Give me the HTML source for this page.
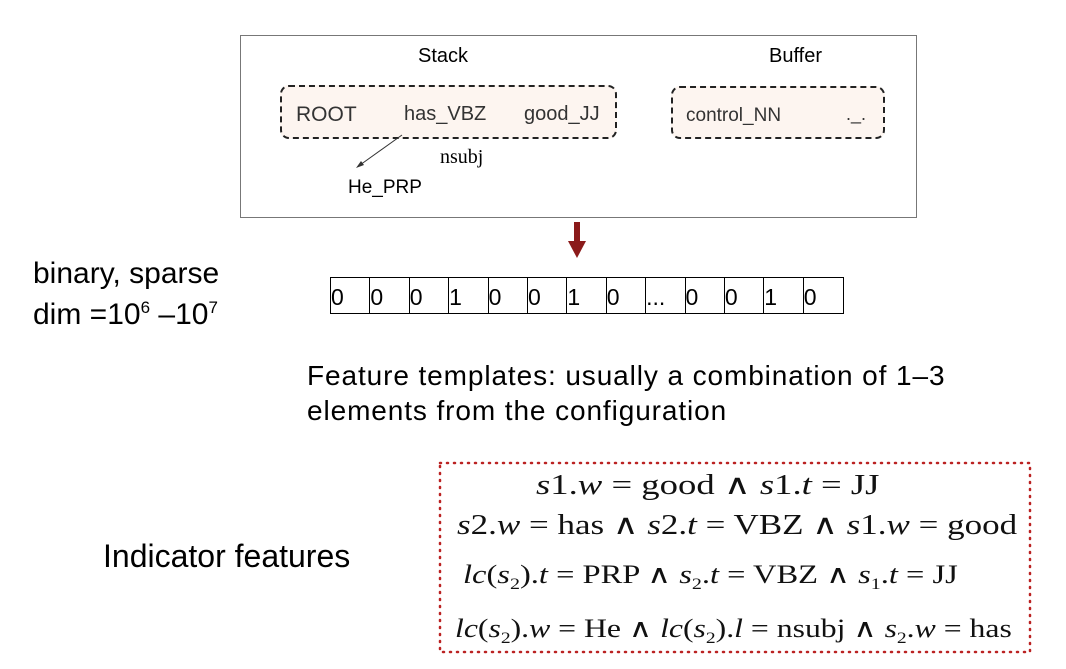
<!DOCTYPE html>
<html><head><style>
body{margin:0;width:1066px;height:669px;background:#fff;position:relative;overflow:hidden;font-family:"Liberation Sans",sans-serif;}
.a{position:absolute;white-space:nowrap;}
.s{font-family:"Liberation Serif",serif;font-size:28px;color:#111;transform:scaleX(1.25);transform-origin:0 0;}
i{font-style:italic}
</style></head><body>
<div class="a" style="left:240px;top:35px;width:675px;height:181px;border:1.5px solid #777;"></div>
<div class="a" style="left:418px;top:45px;font-size:20px;">Stack</div>
<div class="a" style="left:769px;top:45px;font-size:20px;">Buffer</div>
<div class="a" style="left:280px;top:85px;width:333px;height:50px;border:2.5px dashed #222;border-radius:9px;background:#fdf5f0;"></div>
<div class="a" style="left:671px;top:86px;width:210px;height:49px;border:2.5px dashed #222;border-radius:9px;background:#fdf5f0;"></div>
<div class="a" style="left:296px;top:103px;font-size:21px;color:#333;">ROOT</div>
<div class="a" style="left:404px;top:103px;font-size:20px;color:#333;">has_VBZ</div>
<div class="a" style="left:524px;top:103px;font-size:20px;color:#333;">good_JJ</div>
<div class="a" style="left:686px;top:105px;font-size:19px;color:#333;">control_NN</div>
<div class="a" style="left:846px;top:104px;font-size:18px;color:#333;">._.</div>
<svg class="a" style="left:0;top:0" width="1066" height="669">
<line x1="402" y1="135" x2="360" y2="165" stroke="#333" stroke-width="1"/>
<polygon points="356,168 361,161 364,165" fill="#333"/>
<rect x="574" y="222" width="6" height="20" fill="#8b1a1a"/>
<polygon points="568,241 586,241 577,258" fill="#8b1a1a"/>
<rect x="440" y="463" width="590" height="189" fill="none" stroke="#b22" stroke-width="2.5" stroke-dasharray="1 6" stroke-linecap="round"/>
</svg>
<div class="a" style="left:440px;top:146px;font-family:'Liberation Serif',serif;font-size:20px;">nsubj</div>
<div class="a" style="left:348px;top:177px;font-size:19px;">He_PRP</div>
<div class="a" style="left:330px;top:277px;height:35px;width:512px;border:1.5px solid #000;display:flex;font-size:23px;line-height:38px;">
<div style="width:39.4px;border-right:1.5px solid #000;box-sizing:border-box">0</div>
<div style="width:39.4px;border-right:1.5px solid #000;box-sizing:border-box">0</div>
<div style="width:39.4px;border-right:1.5px solid #000;box-sizing:border-box">0</div>
<div style="width:39.4px;border-right:1.5px solid #000;box-sizing:border-box">1</div>
<div style="width:39.4px;border-right:1.5px solid #000;box-sizing:border-box">0</div>
<div style="width:39.4px;border-right:1.5px solid #000;box-sizing:border-box">0</div>
<div style="width:39.4px;border-right:1.5px solid #000;box-sizing:border-box">1</div>
<div style="width:39.4px;border-right:1.5px solid #000;box-sizing:border-box">0</div>
<div style="width:39.4px;border-right:1.5px solid #000;box-sizing:border-box">...</div>
<div style="width:39.4px;border-right:1.5px solid #000;box-sizing:border-box">0</div>
<div style="width:39.4px;border-right:1.5px solid #000;box-sizing:border-box">0</div>
<div style="width:39.4px;border-right:1.5px solid #000;box-sizing:border-box">1</div>
<div style="width:39.4px;box-sizing:border-box">0</div>
</div>
<div class="a" style="left:33px;top:257px;font-size:30px;">binary, sparse</div>
<div class="a" style="left:33px;top:298px;font-size:30px;">dim =10<sup style="font-size:17px">6</sup> –10<sup style="font-size:17px">7</sup></div>
<div class="a" style="left:307px;top:358px;font-size:28px;line-height:35px;letter-spacing:0.9px;">Feature templates: usually a combination of 1–3<br>elements from the configuration</div>
<div class="a" style="left:103px;top:538px;font-size:32px;">Indicator features</div>
<div class="a s" style="left:536px;top:468px;transform:scaleX(1.31);"><i>s</i>1.<i>w</i> = good ∧ <i>s</i>1.<i>t</i> = JJ</div>
<div class="a s" style="left:457px;top:508px;"><i>s</i>2.<i>w</i> = has ∧ <i>s</i>2.<i>t</i> = VBZ ∧ <i>s</i>1.<i>w</i> = good</div>
<div class="a s" style="left:463px;top:560px;font-size:26px;"><i>lc</i>(<i>s</i><sub style="font-size:16px">2</sub>).<i>t</i> = PRP ∧ <i>s</i><sub style="font-size:16px">2</sub>.<i>t</i> = VBZ ∧ <i>s</i><sub style="font-size:16px">1</sub>.<i>t</i> = JJ</div>
<div class="a s" style="left:455px;top:614px;font-size:26px;transform:scaleX(1.22);"><i>lc</i>(<i>s</i><sub style="font-size:16px">2</sub>).<i>w</i> = He ∧ <i>lc</i>(<i>s</i><sub style="font-size:16px">2</sub>).<i>l</i> = nsubj ∧ <i>s</i><sub style="font-size:16px">2</sub>.<i>w</i> = has</div>
</body></html>
